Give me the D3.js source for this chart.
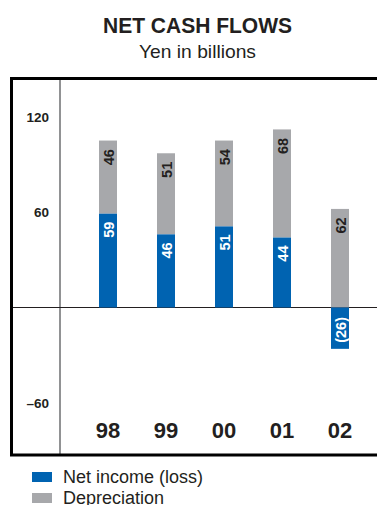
<!DOCTYPE html>
<html>
<head>
<meta charset="utf-8">
<script src="https://cdn.jsdelivr.net/npm/d3@7"></script>
<style>
  html, body { margin: 0; padding: 0; background: #fff; }
  svg { display: block; }
  text { font-family: "Liberation Sans", Arial, Helvetica, sans-serif; }
</style>
</head>
<body>
<svg id="chart" width="377" height="505"></svg>
<script>
// Fiscal years and the two stacked components (yen in billions)
const years = ["98", "99", "00", "01", "02"];
const netIncome = [59, 46, 51, 44, -26];
const depreciation = [46, 51, 54, 68, 62];
const tickValues = [120, 60, -60];
const tickLabels = ["120", "60", "\u201360"];
const seriesNames = ["Net income (loss)", "Depreciation"];
const colors = { net: "#0063b1", dep: "#a7a8ab" };

const svg = d3.select("#chart");

// Title block
svg.append("text").attr("x", 197.5).attr("y", 33)
  .attr("text-anchor", "middle").attr("font-size", 22.5).attr("font-weight", "bold")
  .attr("fill", "#231f20").attr("textLength", 189).attr("lengthAdjust", "spacingAndGlyphs")
  .text("NET CASH FLOWS");
svg.append("text").attr("x", 197.5).attr("y", 58)
  .attr("text-anchor", "middle").attr("font-size", 18.5)
  .attr("fill", "#231f20").attr("textLength", 117).attr("lengthAdjust", "spacingAndGlyphs")
  .text("Yen in billions");

// Scales
const x = d3.scalePoint().domain(years).range([108, 340]);
const y = d3.scaleLinear().domain([0, 120]).range([307.5, 116.7]);
const barW = 18;

// Frame
const frame = svg.append("g");
frame.append("line").attr("x1", 60).attr("x2", 60).attr("y1", 78).attr("y2", 455)
  .attr("stroke", "#6d6e71").attr("stroke-width", 1.5);
frame.append("line").attr("x1", 11).attr("x2", 377).attr("y1", y(0)).attr("y2", y(0))
  .attr("stroke", "#231f20").attr("stroke-width", 1.2);
frame.append("path")
  .attr("d", "M377,78.5 H11.5 V455 H377")
  .attr("fill", "none").attr("stroke", "#000").attr("stroke-width", 3);

// Y tick labels
svg.append("g").selectAll("text").data(tickValues).join("text")
  .attr("x", 49).attr("y", d => y(d) + 5)
  .attr("text-anchor", "end").attr("font-size", 13.5).attr("font-weight", "bold")
  .attr("fill", "#231f20")
  .text((d, i) => tickLabels[i]);

// Bars
const rows = years.map((yr, i) => ({ yr, net: netIncome[i], dep: depreciation[i] }));
const bars = svg.append("g");
rows.forEach(r => {
  const cx = x(r.yr);
  const depBase = Math.max(r.net, 0);
  // depreciation segment sits on top of positive net income, or on the zero line
  bars.append("rect").attr("x", cx - barW / 2).attr("width", barW)
    .attr("y", y(depBase + r.dep)).attr("height", y(depBase) - y(depBase + r.dep))
    .attr("fill", colors.dep);
  bars.append("rect").attr("x", cx - barW / 2).attr("width", barW)
    .attr("y", y(Math.max(r.net, 0))).attr("height", Math.abs(y(r.net) - y(0)))
    .attr("fill", colors.net);

  // depreciation value label near the segment top
  const depTop = y(depBase + r.dep);
  bars.append("text")
    .attr("transform", `translate(${cx + 5.5},${depTop + 8.5}) rotate(-90)`)
    .attr("text-anchor", "end").attr("font-size", 14.5).attr("font-weight", "bold")
    .attr("fill", "#231f20").text(r.dep);

  // net income label: below the top for gains, just below zero for losses
  const label = r.net < 0 ? `(${Math.abs(r.net)})` : `${r.net}`;
  const start = r.net < 0 ? y(0) + 9.5 : y(r.net) + 8;
  bars.append("text")
    .attr("transform", `translate(${cx + 5.5},${start}) rotate(-90)`)
    .attr("text-anchor", "end").attr("font-size", 14.5).attr("font-weight", "bold")
    .attr("fill", "#fff").text(label);
});

// Year labels
svg.append("g").selectAll("text").data(years).join("text")
  .attr("x", d => x(d)).attr("y", 437.5)
  .attr("text-anchor", "middle").attr("font-size", 22).attr("font-weight", "bold")
  .attr("fill", "#231f20").text(d => d);

// Legend
const legend = svg.append("g");
[colors.net, colors.dep].forEach((c, i) => {
  legend.append("rect").attr("x", 32).attr("y", 472 + i * 21).attr("width", 20).attr("height", 10)
    .attr("fill", c);
  legend.append("text").attr("x", 63).attr("y", 483 + i * 21)
    .attr("font-size", 18).attr("fill", "#231f20").text(seriesNames[i]);
});
</script>
</body>
</html>
